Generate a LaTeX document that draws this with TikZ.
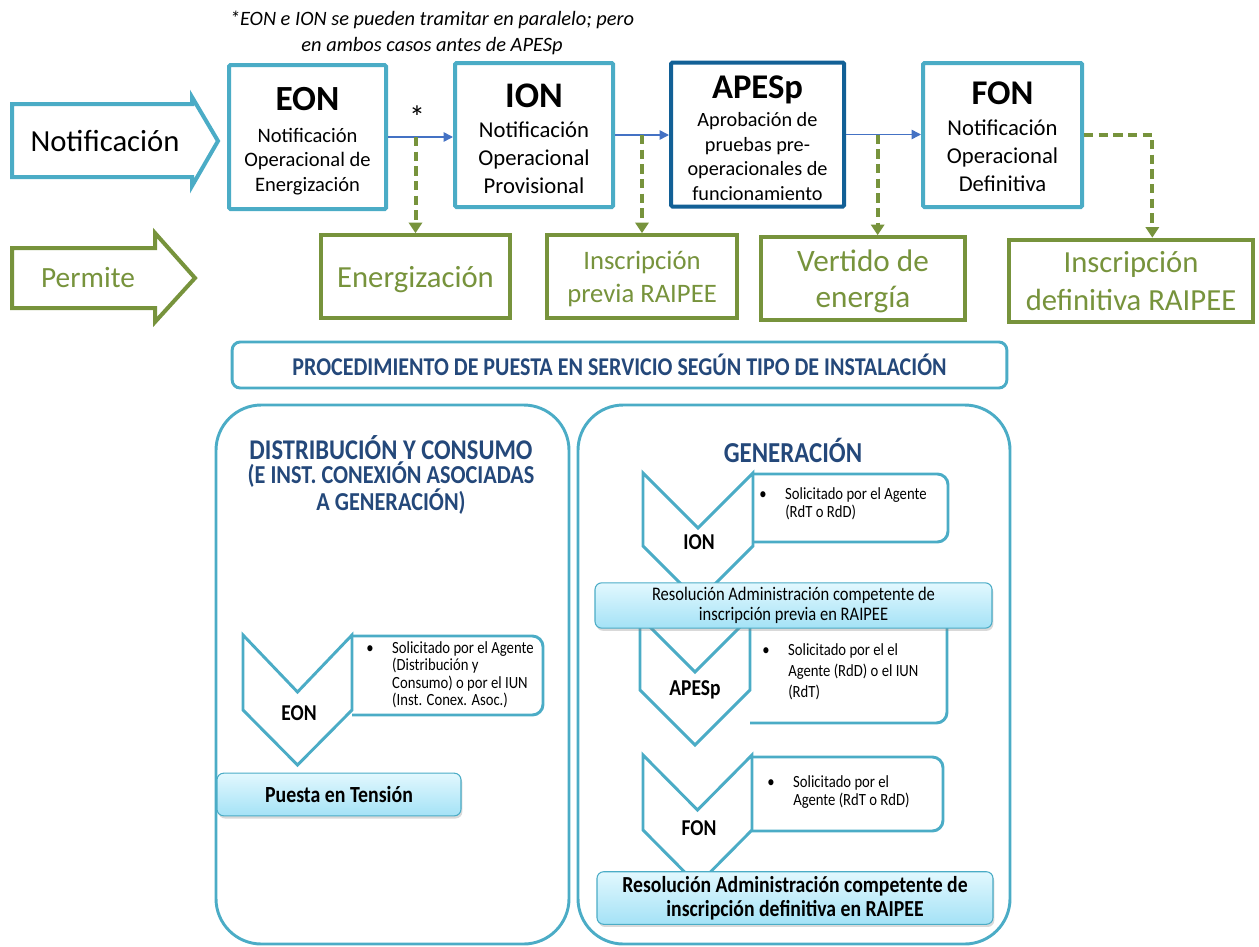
\documentclass[tikz,border=0pt]{standalone}
\usepackage{fontspec}
\setmainfont{Carlito}
\newfontfamily\condfont[FakeStretch=0.86]{Carlito}
\usetikzlibrary{positioning, arrows.meta, shadows}

\definecolor{lblue}{RGB}{75,172,198}
\definecolor{pgreen}{RGB}{119,147,60}
\definecolor{apblue}{RGB}{18,96,150}
\definecolor{ttblue}{RGB}{36,72,122}
\definecolor{arblue}{RGB}{68,114,196}
\definecolor{cyantop}{RGB}{226,248,254}
\definecolor{cyanbot}{RGB}{164,226,246}

\tikzstyle{nbox} = [rectangle, draw=lblue, line width=3pt, fill=white, rounded corners=1pt, align=center, minimum height=108pt]
\tikzstyle{pbox} = [rectangle, draw=pgreen, line width=3pt, fill=white, text=pgreen, align=center, minimum height=62pt]
\tikzstyle{flowline} = [draw=arblue, line width=1.1pt, -{Triangle[length=7pt, width=7pt]}]
\tikzstyle{permline} = [draw=pgreen, line width=3pt, dash pattern=on 7pt off 4pt, -{Triangle[length=8pt, width=10pt]}]
\tikzstyle{bigarrow} = [line width=3pt, fill=white, line join=miter]
\tikzstyle{chev} = [draw=lblue, line width=2.2pt, fill=white]
\tikzstyle{infoline} = [draw=lblue, line width=2.2pt, rounded corners=8pt]
\tikzstyle{infotext} = [anchor=north west, inner sep=0pt, font=\condfont\fontsize{12.8}{12.6}\selectfont]
\tikzstyle{chevlabel} = [font=\condfont\bfseries\fontsize{17}{17}\selectfont]
\tikzstyle{resbox} = [rectangle, rounded corners=5pt, draw=lblue, line width=0.8pt, top color=cyantop, bottom color=cyanbot, drop shadow={opacity=0.3, shadow xshift=1pt, shadow yshift=-2pt}, align=center]
\tikzstyle{bigframe} = [draw=lblue, line width=2.2pt, rounded corners=34pt]
\tikzstyle{sectitle} = [text=ttblue, align=center, font=\condfont\bfseries]

\begin{document}
\begin{tikzpicture}[x=0.75pt, y=-0.75pt]
    \useasboundingbox (0,0) rectangle (1259,946);

    % notification row
    \node[align=center, font=\itshape\fontsize{15.3}{19.5}\selectfont] (note) at (432,33)
        {*EON e ION se pueden tramitar en paralelo; pero\\en ambos casos antes de APESp};
    \draw[bigarrow, draw=lblue] (12,104) -- (192,104) -- (192,97) -- (218,141) -- (192,186) -- (192,177) -- (12,177) -- cycle;
    \node[font=\fontsize{23}{26}\selectfont] (notif) at (105,141) {Notificación};

    \node[nbox, minimum width=117.75pt, font=\fontsize{15.4}{18.4}\selectfont] (eon) at (307.5,137)
        {{\fontsize{26.5}{26}\selectfont\bfseries\rule{0pt}{23.8pt}EON}\\[5.25pt]Notificación\\Operacional de\\Energización};
    \node[nbox, minimum width=118.5pt, font=\fontsize{17}{21}\selectfont] (ion) at (534,135)
        {{\fontsize{27}{27}\selectfont\bfseries\rule{0pt}{23pt}ION}\\[1.5pt]Notificación\\Operacional\\Provisional};
    \node[nbox, draw=apblue, minimum width=129.75pt, font=\fontsize{15.2}{18.5}\selectfont] (apes) at (757.5,134.5)
        {{\fontsize{26}{26}\selectfont\bfseries\rule{0pt}{22.7pt}APESp}\\[2.5pt]Aprobación de\\pruebas pre-\\operacionales de\\funcionamiento};
    \node[nbox, minimum width=119.25pt, font=\fontsize{17}{21}\selectfont] (fon) at (1002.5,135)
        {{\fontsize{26}{26}\selectfont\bfseries\rule{0pt}{19.5pt}FON}\\[2.5pt]Notificación\\Operacional\\Definitiva};
    \node[font=\fontsize{24}{24}\selectfont] (star) at (417,117) {*};

    % permission row
    \draw[bigarrow, draw=pgreen] (12,248) -- (155,248) -- (155,233) -- (195,278) -- (155,322) -- (155,308) -- (12,308) -- cycle;
    \node[text=pgreen, font=\fontsize{22}{26}\selectfont] (perm) at (88,278) {Permite};

    \node[pbox, minimum width=141.75pt, text depth=0pt, font=\fontsize{23}{26}\selectfont] (energ) at (415.5,276.5) {Energización};
    \node[pbox, minimum width=142.5pt, text depth=0pt, font=\fontsize{20}{25}\selectfont] (prev) at (642,276.5) {Inscripción\\previa RAIPEE};
    \node[pbox, minimum width=153pt, text depth=0pt, font=\fontsize{23.4}{26.5}\selectfont] (vert) at (863,278.5) {Vertido de\\energía};
    \node[pbox, minimum width=183pt, font=\fontsize{23}{28}\selectfont] (defin) at (1131,281) {Inscripción\\definitiva RAIPEE};

    \path[flowline] (eon.east) -- (eon.east -| ion.west);
    \path[flowline] (ion.east) -- (ion.east -| apes.west);
    \path[flowline] (apes.east) -- (apes.east -| fon.west);
    \path[permline] (energ.north |- eon.east) -- (energ.north);
    \path[permline] (prev.north |- ion.east) -- (prev.north);
    \path[permline] ([xshift=11pt]vert.north |- apes.east) -- ([xshift=11pt]vert.north);
    \path[permline] (fon.east) -| ([xshift=16pt]defin.north);

    % procedure by type
    \node[rectangle, draw=lblue, line width=2.2pt, rounded corners=6pt, minimum width=581pt, minimum height=34.5pt,
        sectitle, font=\condfont\bfseries\fontsize{19.2}{20}\selectfont] (proc) at (619.5,365)
        {PROCEDIMIENTO DE PUESTA EN SERVICIO SEGÚN TIPO DE INSTALACIÓN};
    \draw[bigframe] (216,405) rectangle (569,944);
    \draw[bigframe] (578,405) rectangle (1010,944);

    \node[sectitle] (dist) at (391,475)
        {{\fontsize{21.4}{22}\selectfont DISTRIBUCIÓN Y CONSUMO}\\[1pt]{\fontsize{19.4}{21}\selectfont (E INST. CONEXIÓN ASOCIADAS}\\{\fontsize{19.4}{21}\selectfont A GENERACIÓN)}};
    \node[sectitle, font=\condfont\bfseries\fontsize{21.7}{22}\selectfont] (gen) at (793,450) {GENERACIÓN};

    % distribution column
    \draw[chev] (243,635) -- (297.5,692) -- (352,635) -- (352,710) -- (297.5,765) -- (243,710) -- cycle;
    \draw[infoline] (352,636) -- (543,636) -- (543,715) -- (352,715);
    \node[chevlabel] (eonc) at (299,713) {EON};
    \node[infotext] (eoninfo) at (366,641)
        {\begin{tabular}{@{}l@{\hspace{14pt}}l@{}}•&Solicitado por el Agente\\&(Distribución y\\&Consumo) o por el IUN\\&(Inst. Conex. Asoc.)\end{tabular}};
    \node[resbox, minimum width=183pt, minimum height=32pt, font=\condfont\bfseries\fontsize{17.3}{18}\selectfont] (tens) at (339,794.5) {Puesta en Tensión};

    % generation column
    \draw[chev] (643,473) -- (698,528) -- (753,473) -- (753,546) -- (698,601) -- (643,546) -- cycle;
    \draw[infoline] (753,474) -- (948,474) -- (948,542) -- (753,542);
    \node[chevlabel] (ionc) at (699,542) {ION};
    \node[infotext, font=\condfont\fontsize{12.8}{13.5}\selectfont] (ioninfo) at (759,487)
        {\begin{tabular}{@{}l@{\hspace{14pt}}l@{}}•&Solicitado por el Agente\\&(RdT o RdD)\end{tabular}};

    \draw[chev] (640,617) -- (695,672) -- (750,617) -- (750,690) -- (695,745) -- (640,690) -- cycle;
    \draw[infoline] (750,617) -- (947,617) -- (947,723) -- (750,723);
    \node[chevlabel] (apesc) at (695,690) {APESp};
    \node[infotext, font=\condfont\fontsize{12.8}{15.75}\selectfont] (apesinfo) at (762,641)
        {\begin{tabular}{@{}l@{\hspace{14pt}}l@{}}•&Solicitado por el el\\&Agente (RdD) o el IUN\\&(RdT)\end{tabular}};

    \node[resbox, minimum width=297.75pt, minimum height=33.75pt, font=\condfont\fontsize{14.4}{15}\selectfont] (resprev) at (793.5,605.5)
        {Resolución Administración competente de\\inscripción previa en RAIPEE};

    \draw[chev] (643,755) -- (697.5,810) -- (752,755) -- (752,830) -- (697.5,885) -- (643,830) -- cycle;
    \draw[infoline] (752,757) -- (943,757) -- (943,831) -- (752,831);
    \node[chevlabel] (fonc) at (699,828) {FON};
    \node[infotext, font=\condfont\fontsize{12.8}{13.5}\selectfont] (foninfo) at (767,775)
        {\begin{tabular}{@{}l@{\hspace{14pt}}l@{}}•&Solicitado por el\\&Agente (RdT o RdD)\end{tabular}};

    \node[resbox, minimum width=297pt, minimum height=37.5pt, font=\condfont\bfseries\fontsize{17.2}{18}\selectfont] (resdef) at (795,898)
        {Resolución Administración competente de\\inscripción definitiva en RAIPEE};
\end{tikzpicture}
\end{document}
